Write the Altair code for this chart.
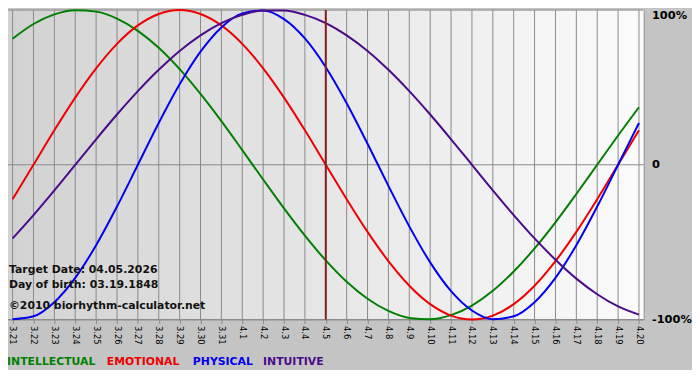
import altair as alt
import pandas as pd

# ---- data ----
day_labels = ["3.21", "3.22", "3.23", "3.24", "3.25", "3.26", "3.27", "3.28", "3.29", "3.30", "3.31",
              "4.1", "4.2", "4.3", "4.4", "4.5", "4.6", "4.7", "4.8", "4.9", "4.10",
              "4.11", "4.12", "4.13", "4.14", "4.15", "4.16", "4.17", "4.18", "4.19", "4.20"]

intellectual = [0.815, 0.910, 0.972, 0.999, 0.990, 0.945, 0.866, 0.756, 0.618, 0.458, 0.282,
                0.095, -0.095, -0.282, -0.458, -0.618, -0.756, -0.866, -0.945, -0.990, -0.999,
                -0.972, -0.910, -0.815, -0.690, -0.541, -0.372, -0.189, 0.0, 0.189, 0.372]
emotional = [-0.223, 0.0, 0.223, 0.434, 0.623, 0.782, 0.901, 0.975, 1.0, 0.975, 0.901,
             0.782, 0.623, 0.434, 0.223, 0.0, -0.223, -0.434, -0.623, -0.782, -0.901,
             -0.975, -1.0, -0.975, -0.901, -0.782, -0.623, -0.434, -0.223, 0.0, 0.223]
physical = [-0.998, -0.979, -0.888, -0.731, -0.520, -0.270, 0.0, 0.270, 0.520, 0.731, 0.888,
            0.979, 0.998, 0.942, 0.817, 0.631, 0.398, 0.136, -0.136, -0.398, -0.631,
            -0.817, -0.942, -0.998, -0.979, -0.888, -0.731, -0.520, -0.270, 0.0, 0.270]
intuitive = [-0.476, -0.325, -0.165, 0.0, 0.165, 0.325, 0.476, 0.614, 0.736, 0.837, 0.916,
             0.969, 0.997, 0.997, 0.969, 0.916, 0.837, 0.736, 0.614, 0.476, 0.325,
             0.165, 0.0, -0.165, -0.325, -0.476, -0.614, -0.736, -0.837, -0.916, -0.969]

series_names = ["INTELLECTUAL", "EMOTIONAL", "PHYSICAL", "INTUITIVE"]
series_values = [intellectual, emotional, physical, intuitive]
series_colors = ["#008000", "#ee0000", "#0000ee", "#4b0a8a"]

target_day = ["4.5"]
notes = ["Target Date: 04.05.2026", "Day of birth: 03.19.1848", "\u00a92010 biorhythm-calculator.net"]

y_tick_values = [1, 0, -1]
y_tick_labels = ["100%", "0", "-100%"]

# ---- layout ----
W, H = 643, 313
FONT = "DejaVu Sans"
GRID = "#8a8a8a"

rows = []
for name, vals in zip(series_names, series_values):
    for d, v in zip(day_labels, vals):
        rows.append({"day": d, "value": v, "series": name})
df = pd.DataFrame(rows)

label_expr = " : ".join(
    [f"datum.value == {v} ? '{l}'" for v, l in zip(y_tick_values, y_tick_labels)]
) + " : ''"

x_scale = alt.Scale(type="point", domain=day_labels, padding=0.22)
y_scale = alt.Scale(domain=[-1.0, 1.0])

x_axis = alt.Axis(
    title=None, labelAngle=90, labelFont=FONT, labelFontSize=8.5, labelColor="black",
    labelPadding=2, labelOverlap=False, tickColor=GRID, tickSize=4,
    domainColor=GRID, grid=False,
)
y_axis = alt.Axis(
    title=None, orient="right", values=y_tick_values, labelExpr=label_expr,
    labelFont=FONT, labelFontSize=11.5, labelFontWeight="bold", labelColor="black",
    labelPadding=8, ticks=False, domainColor=GRID, grid=False,
    labelBaseline={"condition": {"test": "datum.value == 1", "value": "top"}, "value": "middle"},
)


def xe(field="day"):
    return alt.X(f"{field}:O", scale=x_scale, axis=x_axis)


def ye(field="value"):
    return alt.Y(f"{field}:Q", scale=y_scale, axis=y_axis)


bg = alt.Chart(pd.DataFrame({"a": [0]})).mark_rect(
    fill=alt.LinearGradient(
        gradient="linear",
        stops=[alt.GradientStop(color="#d2d2d2", offset=0),
               alt.GradientStop(color="#fbfbfb", offset=1)],
        x1=0, x2=1, y1=0, y2=0,
    )
).encode(x=alt.value(0), x2=alt.value(W), y=alt.value(0), y2=alt.value(H))

vgrid = alt.Chart(pd.DataFrame({"day": day_labels})).mark_rule(
    color=GRID, strokeWidth=1
).encode(x=xe())

hgrid = alt.Chart(pd.DataFrame({"value": y_tick_values})).mark_rule(
    color=GRID, strokeWidth=1
).encode(y=ye())

legend_x = [-12, 89, 176, 247]
layers = [bg, vgrid, hgrid]
for i, (name, col) in enumerate(zip(series_names, series_colors)):
    layers.append(
        alt.Chart(df).transform_filter(alt.datum.series == name).mark_line(
            strokeWidth=2, interpolate="monotone"
        ).encode(
            x=xe(),
            y=ye(),
            color=alt.Color(
                "series:N",
                scale=alt.Scale(domain=[name], range=[col]),
                legend=alt.Legend(
                    title=None, orient="none", legendX=legend_x[i], legendY=351,
                    labelColor=col, labelFont=FONT, labelFontWeight="bold", labelFontSize=11,
                    symbolSize=0, symbolStrokeWidth=0, symbolOpacity=0, labelOffset=0,
                    padding=0,
                ),
            ),
        )
    )

rule = alt.Chart(pd.DataFrame({"day": target_day})).mark_rule(
    color="#861c1c", strokeWidth=2
).encode(x=xe())
layers.append(rule)

note_y = [263, 278, 299]
for t, yy in zip(notes, note_y):
    layers.append(
        alt.Chart(pd.DataFrame({"t": [t]})).mark_text(
            align="left", baseline="middle", font=FONT, fontWeight="bold", fontSize=11,
            color="#111111",
        ).encode(text="t:N", x=alt.value(1), y=alt.value(yy))
    )

chart = alt.layer(*layers).resolve_scale(color="independent").resolve_legend(
    color="independent"
).properties(
    width=W, height=H,
    autosize=alt.AutoSizeParams(type="none"),
    padding={"left": 0, "top": 0, "right": 49, "bottom": 49},
    background="#c4c4c4",
).configure_view(stroke=None)

chart.save("out.html", embed_options={"renderer": "svg", "actions": False})
